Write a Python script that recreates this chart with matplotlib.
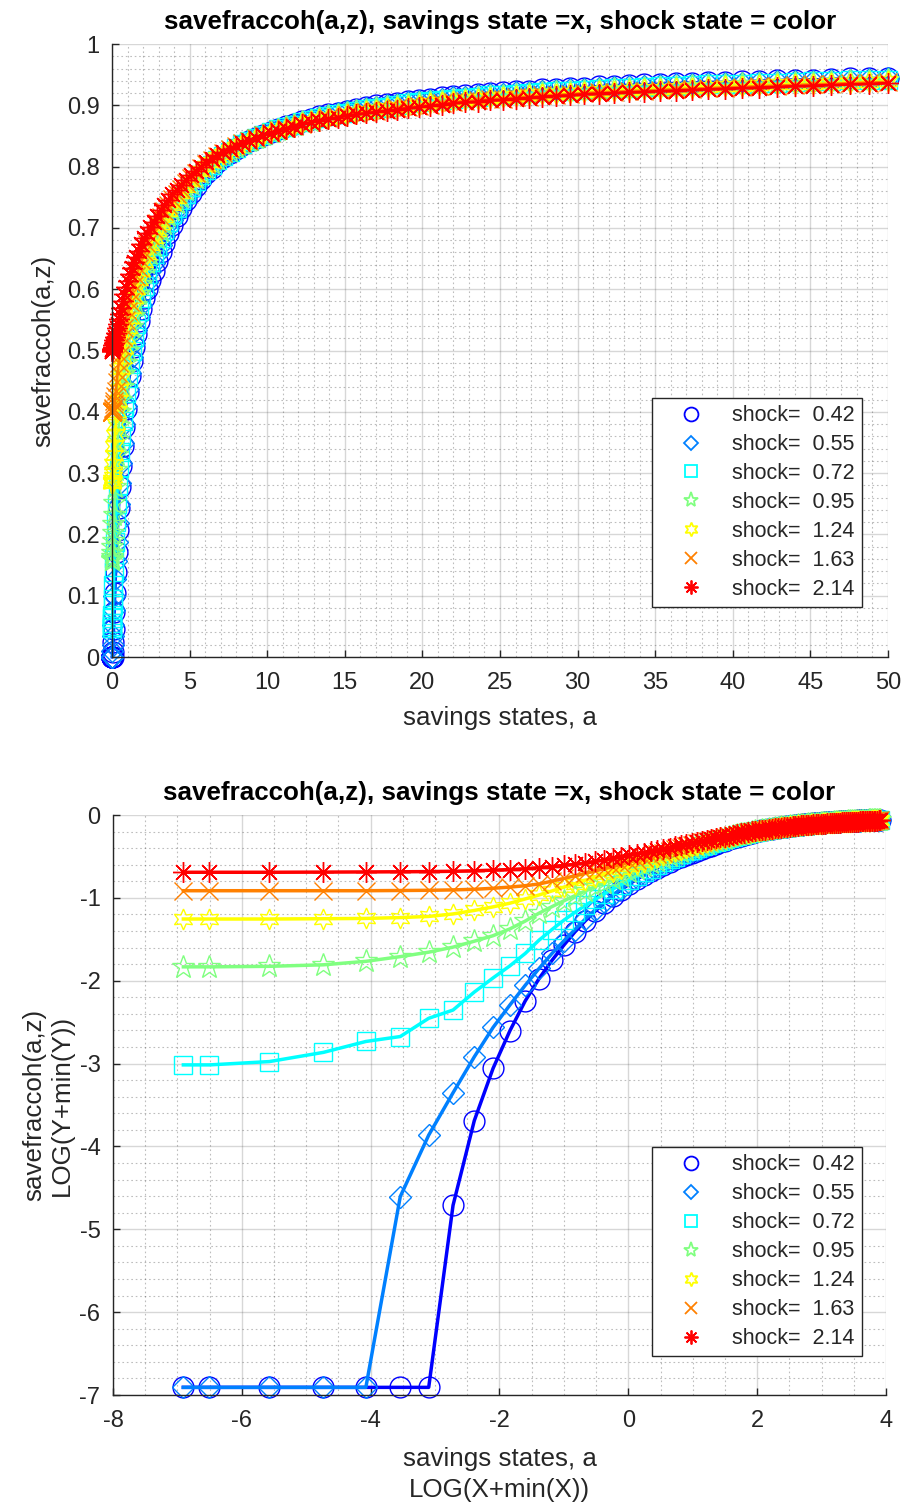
import numpy as np
import matplotlib
matplotlib.use("Agg")
import matplotlib.pyplot as plt
from matplotlib.lines import Line2D
from matplotlib.ticker import MultipleLocator

plt.rcParams['font.family'] = ['Liberation Sans', 'DejaVu Sans']
plt.rcParams['axes.unicode_minus'] = False

# savings grid a
a_grid = [0, 0.0005, 0.0028, 0.0078, 0.016, 0.028, 0.0441, 0.0648, 0.0905, 0.1215,
          0.1581, 0.2007, 0.2494, 0.3047, 0.3667, 0.4357, 0.512, 0.5958, 0.6873, 0.7868,
          0.8944, 1.0105, 1.1351, 1.2685, 1.4109, 1.5625, 1.7235, 1.894, 2.0743, 2.2645,
          2.4647, 2.6754, 2.8963, 3.1278, 3.3703, 3.6236, 3.888, 4.1636, 4.4505, 4.7491,
          5.0596, 5.3817, 5.7159, 6.0621, 6.4207, 6.7919, 7.1755, 7.5725, 7.9811, 8.4035,
          8.8388, 9.2869, 9.7491, 10.2248, 10.7134, 11.2167, 11.7334, 12.265, 12.8101, 13.3689,
          13.9428, 14.5305, 15.1337, 15.751, 16.384, 17.031, 17.6941, 18.3712, 19.0648, 19.7748,
          20.4992, 21.2377, 21.9931, 22.7655, 23.5523, 24.3563, 25.1775, 26.0135, 26.8669, 27.735,
          28.6208, 29.5245, 30.443, 31.3794, 32.3341, 33.3073, 34.2953, 35.2981, 36.3232, 37.3634,
          38.4224, 39.4962, 40.5934, 41.7055, 42.8325, 43.9834, 45.1492, 46.3347, 47.535, 48.76, 50.0]

shock_vals = [0.42, 0.55, 0.72, 0.95, 1.24, 1.63, 2.14]

sf_z1 = [0, 0, 0, 0, 0, 0, 0, 0.008, 0.024, 0.046,
         0.073, 0.105, 0.138, 0.172, 0.207, 0.243, 0.278, 0.312, 0.345, 0.376,
         0.405, 0.433, 0.459, 0.483, 0.506, 0.527, 0.548, 0.567, 0.585, 0.600,
         0.615, 0.630, 0.646, 0.661, 0.676, 0.691, 0.705, 0.719, 0.732, 0.745,
         0.757, 0.768, 0.779, 0.789, 0.798, 0.807, 0.815, 0.822, 0.829, 0.836,
         0.842, 0.847, 0.852, 0.857, 0.862, 0.866, 0.870, 0.874, 0.878, 0.882,
         0.885, 0.888, 0.891, 0.894, 0.897, 0.900, 0.902, 0.904, 0.907, 0.909,
         0.911, 0.913, 0.915, 0.916, 0.918, 0.920, 0.921, 0.923, 0.924, 0.926,
         0.927, 0.928, 0.929, 0.931, 0.932, 0.933, 0.934, 0.935, 0.936, 0.937,
         0.938, 0.938, 0.939, 0.940, 0.941, 0.942, 0.942, 0.943, 0.944, 0.944, 0.945]

sf_z2 = [0, 0, 0, 0, 0, 0.009, 0.020, 0.034, 0.053, 0.076,
         0.100, 0.127, 0.156, 0.187, 0.218, 0.250, 0.284, 0.317, 0.349, 0.380,
         0.410, 0.438, 0.464, 0.489, 0.512, 0.534, 0.555, 0.575, 0.594, 0.612,
         0.629, 0.643, 0.658, 0.672, 0.686, 0.700, 0.713, 0.726, 0.738, 0.751,
         0.762, 0.772, 0.783, 0.792, 0.801, 0.809, 0.817, 0.823, 0.830, 0.836,
         0.842, 0.847, 0.852, 0.857, 0.861, 0.865, 0.869, 0.873, 0.877, 0.881,
         0.884, 0.887, 0.890, 0.893, 0.895, 0.898, 0.900, 0.902, 0.905, 0.907,
         0.909, 0.911, 0.913, 0.914, 0.916, 0.918, 0.919, 0.921, 0.922, 0.924,
         0.925, 0.926, 0.927, 0.929, 0.930, 0.931, 0.932, 0.933, 0.934, 0.935,
         0.936, 0.936, 0.937, 0.938, 0.939, 0.940, 0.940, 0.941, 0.942, 0.943, 0.944]

sf_z3 = [0.048, 0.048, 0.050, 0.056, 0.064, 0.068, 0.085, 0.094, 0.117, 0.139,
         0.161, 0.187, 0.220, 0.250, 0.280, 0.308, 0.335, 0.360, 0.385, 0.408,
         0.431, 0.455, 0.478, 0.500, 0.522, 0.543, 0.564, 0.585, 0.605, 0.625,
         0.644, 0.657, 0.671, 0.684, 0.696, 0.709, 0.722, 0.733, 0.745, 0.756,
         0.767, 0.776, 0.786, 0.795, 0.803, 0.811, 0.818, 0.824, 0.831, 0.837,
         0.842, 0.847, 0.852, 0.856, 0.861, 0.865, 0.868, 0.872, 0.876, 0.880,
         0.883, 0.885, 0.888, 0.891, 0.894, 0.896, 0.898, 0.900, 0.903, 0.905,
         0.907, 0.909, 0.911, 0.912, 0.914, 0.916, 0.917, 0.919, 0.920, 0.922,
         0.923, 0.924, 0.925, 0.927, 0.928, 0.929, 0.930, 0.931, 0.932, 0.933,
         0.934, 0.934, 0.935, 0.936, 0.937, 0.938, 0.939, 0.940, 0.941, 0.941, 0.942]

sf_z4 = [0.159, 0.159, 0.160, 0.163, 0.170, 0.180, 0.190, 0.202, 0.217, 0.232,
         0.252, 0.277, 0.305, 0.330, 0.354, 0.377, 0.399, 0.420, 0.441, 0.461,
         0.480, 0.500, 0.519, 0.538, 0.556, 0.574, 0.592, 0.609, 0.626, 0.642,
         0.658, 0.670, 0.683, 0.695, 0.707, 0.719, 0.730, 0.741, 0.751, 0.762,
         0.772, 0.781, 0.790, 0.798, 0.806, 0.813, 0.820, 0.826, 0.832, 0.837,
         0.842, 0.847, 0.852, 0.856, 0.860, 0.864, 0.868, 0.872, 0.875, 0.879,
         0.882, 0.884, 0.887, 0.890, 0.892, 0.895, 0.897, 0.899, 0.901, 0.903,
         0.905, 0.907, 0.909, 0.911, 0.912, 0.914, 0.915, 0.917, 0.918, 0.920,
         0.921, 0.922, 0.924, 0.925, 0.926, 0.927, 0.928, 0.929, 0.930, 0.931,
         0.932, 0.933, 0.934, 0.935, 0.936, 0.937, 0.937, 0.938, 0.939, 0.940, 0.941]

sf_z5 = [0.284, 0.284, 0.284, 0.285, 0.286, 0.289, 0.293, 0.302, 0.315, 0.329,
         0.344, 0.362, 0.380, 0.399, 0.418, 0.436, 0.454, 0.471, 0.488, 0.504,
         0.520, 0.537, 0.553, 0.569, 0.585, 0.600, 0.615, 0.630, 0.644, 0.658,
         0.672, 0.683, 0.695, 0.706, 0.717, 0.728, 0.738, 0.748, 0.757, 0.767,
         0.776, 0.785, 0.793, 0.801, 0.808, 0.815, 0.821, 0.827, 0.832, 0.837,
         0.842, 0.846, 0.851, 0.856, 0.859, 0.863, 0.867, 0.871, 0.874, 0.877,
         0.880, 0.883, 0.886, 0.888, 0.890, 0.893, 0.895, 0.897, 0.899, 0.901,
         0.903, 0.905, 0.907, 0.909, 0.910, 0.912, 0.913, 0.915, 0.916, 0.918,
         0.919, 0.920, 0.922, 0.923, 0.924, 0.925, 0.926, 0.927, 0.928, 0.929,
         0.930, 0.931, 0.932, 0.933, 0.934, 0.935, 0.935, 0.936, 0.937, 0.938, 0.939]

sf_z6 = [0.400, 0.400, 0.400, 0.400, 0.400, 0.401, 0.402, 0.404, 0.407, 0.412,
         0.418, 0.425, 0.434, 0.449, 0.464, 0.479, 0.493, 0.508, 0.522, 0.536,
         0.550, 0.565, 0.579, 0.593, 0.607, 0.621, 0.634, 0.648, 0.661, 0.674,
         0.687, 0.697, 0.708, 0.718, 0.727, 0.737, 0.747, 0.755, 0.764, 0.773,
         0.781, 0.789, 0.797, 0.804, 0.811, 0.817, 0.823, 0.828, 0.833, 0.838,
         0.842, 0.846, 0.851, 0.855, 0.859, 0.863, 0.866, 0.870, 0.873, 0.876,
         0.879, 0.881, 0.884, 0.887, 0.889, 0.891, 0.893, 0.895, 0.897, 0.899,
         0.901, 0.903, 0.905, 0.907, 0.908, 0.910, 0.911, 0.913, 0.914, 0.916,
         0.917, 0.918, 0.920, 0.921, 0.922, 0.923, 0.924, 0.925, 0.926, 0.927,
         0.928, 0.929, 0.930, 0.931, 0.932, 0.933, 0.934, 0.935, 0.936, 0.937, 0.938]

sf_z7 = [0.500, 0.500, 0.500, 0.501, 0.502, 0.503, 0.504, 0.506, 0.509, 0.513,
         0.517, 0.522, 0.529, 0.536, 0.543, 0.551, 0.560, 0.570, 0.581, 0.592,
         0.603, 0.614, 0.624, 0.634, 0.644, 0.653, 0.663, 0.673, 0.683, 0.692,
         0.701, 0.710, 0.720, 0.729, 0.737, 0.746, 0.755, 0.762, 0.770, 0.778,
         0.786, 0.793, 0.800, 0.807, 0.813, 0.819, 0.824, 0.829, 0.834, 0.838,
         0.842, 0.846, 0.851, 0.855, 0.858, 0.862, 0.865, 0.869, 0.872, 0.875,
         0.878, 0.880, 0.883, 0.885, 0.887, 0.889, 0.891, 0.893, 0.895, 0.897,
         0.899, 0.901, 0.903, 0.905, 0.906, 0.908, 0.909, 0.911, 0.912, 0.914,
         0.915, 0.916, 0.918, 0.919, 0.920, 0.921, 0.922, 0.923, 0.924, 0.925,
         0.926, 0.927, 0.928, 0.929, 0.930, 0.931, 0.932, 0.933, 0.934, 0.935, 0.936]

series = [sf_z1, sf_z2, sf_z3, sf_z4, sf_z5, sf_z6, sf_z7]
log_offset = 0.001   # the "+min" shift used in the log panel

colors = [(0, 0, 1), (0, 0.5, 1), (0, 1, 1), (0.5, 1, 0.5),
          (1, 1, 0), (1, 0.5, 0), (1, 0, 0)]
markers = ['o', 'D', 's', '*', (6, 1, 0), 'x', (8, 2, 0)]
msizes = [15, 11, 13, 17, 15, 13, 15]
leg_sizes = [10, 7.5, 8.5, 11, 10, 8.5, 10]

txt_col = (0.15, 0.15, 0.15)
W, H = 901, 1505
fig = plt.figure(figsize=(W / 100, H / 100), dpi=100)
ax1 = fig.add_axes([112 / W, 1 - 657 / H, 776 / W, 613 / H])
ax2 = fig.add_axes([113 / W, 1 - 1395 / H, 773 / W, 580 / H])


def style(ax, xmaj, xmin, ymaj, ymin):
    ax.xaxis.set_major_locator(MultipleLocator(xmaj))
    ax.xaxis.set_minor_locator(MultipleLocator(xmin))
    ax.yaxis.set_major_locator(MultipleLocator(ymaj))
    ax.yaxis.set_minor_locator(MultipleLocator(ymin))
    ax.grid(which='major', color=(0.15, 0.15, 0.15), alpha=0.18, lw=1.0)
    ax.grid(which='minor', color=(0.15, 0.15, 0.15), alpha=0.3, lw=0.8,
            linestyle=(0, (1.5, 2.5)))
    ax.set_axisbelow(True)
    for s in ['top', 'right']:
        ax.spines[s].set_visible(False)
    for s in ['left', 'bottom']:
        ax.spines[s].set_color(txt_col)
        ax.spines[s].set_linewidth(1.0)
    ax.tick_params(which='major', direction='in', length=5, width=1,
                   labelsize=17, colors=txt_col)
    ax.tick_params(axis='x', which='major', pad=10.5)
    ax.tick_params(axis='y', which='major', pad=9)
    ax.tick_params(which='minor', length=0)


a = np.array(a_grid)
for i, ys in enumerate(series):
    ax1.plot(a, ys, color=colors[i], lw=2, marker=markers[i], ms=msizes[i],
             mfc='none', mec=colors[i], mew=1.0, clip_on=False)
    ax2.plot(np.log(a + log_offset), np.log(np.array(ys) + log_offset),
             color=colors[i], lw=2.5, marker=markers[i], ms=msizes[i],
             mfc='none', mec=colors[i], mew=1.0, clip_on=False)

ax1.set_xlim(0, 50)
ax1.set_ylim(0, 1)
style(ax1, 5, 1, 0.1, 0.02)
ax1.set_yticks(np.arange(0, 1.01, 0.1))
ax1.set_yticklabels(['0', '0.1', '0.2', '0.3', '0.4', '0.5', '0.6', '0.7', '0.8', '0.9', '1'])

ax2.set_xlim(-8, 4)
ax2.set_ylim(-7, 0)
style(ax2, 2, 0.5, 1, 0.2)

title = 'savefraccoh(a,z), savings state =x, shock state = color'
ax1.set_title(title, fontsize=18.7, fontweight='bold', color='black', pad=11)
ax2.set_title(title, fontsize=18.7, fontweight='bold', color='black', pad=11)

ax1.set_xlabel('savings states, a', fontsize=18.7, color=txt_col, labelpad=9)
ax1.set_ylabel('savefraccoh(a,z)', fontsize=18.7, color=txt_col, labelpad=8)
ax2.set_xlabel('savings states, a\nLOG(X+min(X))', fontsize=18.7, color=txt_col,
               labelpad=11, linespacing=1.4)
ax2.set_ylabel('savefraccoh(a,z)\nLOG(Y+min(Y))', fontsize=18.7, color=txt_col,
               labelpad=4, linespacing=1.2)

labels = ['shock=  %.2f' % z for z in shock_vals]
handles = [Line2D([], [], ls='none', marker=markers[i], ms=leg_sizes[i], mfc='none',
                  mec=colors[i], mew=1.3) for i in range(7)]
for ax, anchor in ((ax1, (0.9665, 0.0816)), (ax2, (0.969, 0.067))):
    leg = ax.legend(handles, labels, loc='lower right', bbox_to_anchor=anchor,
                    fontsize=15.5, frameon=True, fancybox=False, framealpha=1,
                    edgecolor=txt_col, borderpad=0.33, handlelength=3.0,
                    handletextpad=0.4, labelspacing=0.37, borderaxespad=0)
    leg.get_frame().set_linewidth(1.0)
    for t in leg.get_texts():
        t.set_color(txt_col)

fig.savefig('out.png', dpi=100)
